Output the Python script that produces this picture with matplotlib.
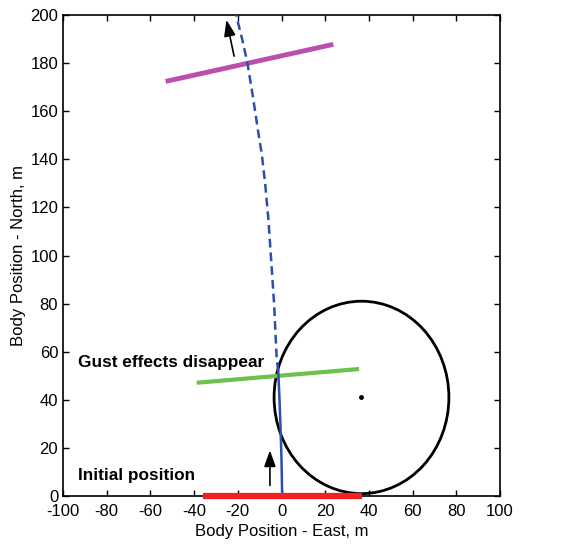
import numpy as np
import matplotlib.pyplot as plt
from matplotlib.patches import Circle

plt.rcParams['font.family'] = ['Liberation Sans', 'DejaVu Sans']
plt.rcParams['axes.unicode_minus'] = False

# trajectory (east, north)
path_solid_x = [0.3, 0.0, -0.5, -1.0, -1.5]
path_solid_y = [0, 15, 30, 42, 52]
path_dash_x = [-1.5, -2.2, -3.4, -4.5, -6.0, -7.5, -9.0, -10.6, -12.9, -15.6, -18.0, -20.8]
path_dash_y = [52, 57, 80, 95, 115, 130, 142, 151, 165, 180, 190, 200]

# gust-window boundaries
start_x = [-36.1, 36.7]
start_y = [0.0, 0.0]
gust_end_x = [-38.8, 35.5]
gust_end_y = [47.1, 52.8]
final_x = [-53.0, 23.7]
final_y = [172.4, 187.8]

# circle
circle_cx = 36.6
circle_cy = 41.0
circle_r = 40.0

# arrows: (x_from, y_from, x_to, y_to)
arrows = [(-5.3, 4.4, -5.3, 19.0), (-21.7, 182.9, -25.2, 198.0)]

fig = plt.figure(figsize=(5.79, 5.44), dpi=100)
ax = fig.add_axes([0.1088, 0.0882, 0.7548, 0.8842])

ax.plot(start_x, start_y, color='#ee2222', lw=4.5, solid_capstyle='butt', zorder=5,
        clip_on=False)
ax.plot(gust_end_x, gust_end_y, color='#6cc24a', lw=3, solid_capstyle='butt', zorder=3)
ax.plot(final_x, final_y, color='#bb4fad', lw=3.5, solid_capstyle='butt', zorder=3)

ax.add_patch(Circle((circle_cx, circle_cy), circle_r, fill=False,
                    edgecolor='black', lw=2, zorder=2))
ax.plot([circle_cx], [circle_cy], 'k.', ms=5)

ax.plot(path_solid_x, path_solid_y, color='#2b4fb0', lw=1.8, zorder=4)
ax.plot(path_dash_x, path_dash_y, color='#2b4fb0', lw=1.8, ls=(0, (3.5, 2)), zorder=4)

for x0, y0, x1, y1 in arrows:
    ax.annotate('', xy=(x1, y1), xytext=(x0, y0),
                arrowprops=dict(arrowstyle='-|>,head_width=0.25,head_length=0.7',
                                color='black', lw=1.2,
                                mutation_scale=14, shrinkA=0, shrinkB=0))

ax.text(-93.3, 55.4, 'Gust effects disappear', fontsize=12.4, fontweight='bold',
        va='center', ha='left')
ax.text(-93.3, 8.6, 'Initial position', fontsize=12.4, fontweight='bold',
        va='center', ha='left')

ax.set_xlim(-100, 100)
ax.set_ylim(0, 200)
ax.set_xticks(np.arange(-100, 101, 20))
ax.set_yticks(np.arange(0, 201, 20))
ax.tick_params(direction='in', top=True, right=True, labelsize=12, length=4, width=1)
ax.tick_params(axis='x', pad=6)
for s in ax.spines.values():
    s.set_linewidth(1.2)
ax.set_xlabel('Body Position - East, m', fontsize=12, labelpad=3)
ax.set_ylabel('Body Position - North, m', fontsize=12, labelpad=3)

fig.savefig('out.png', dpi=100)
